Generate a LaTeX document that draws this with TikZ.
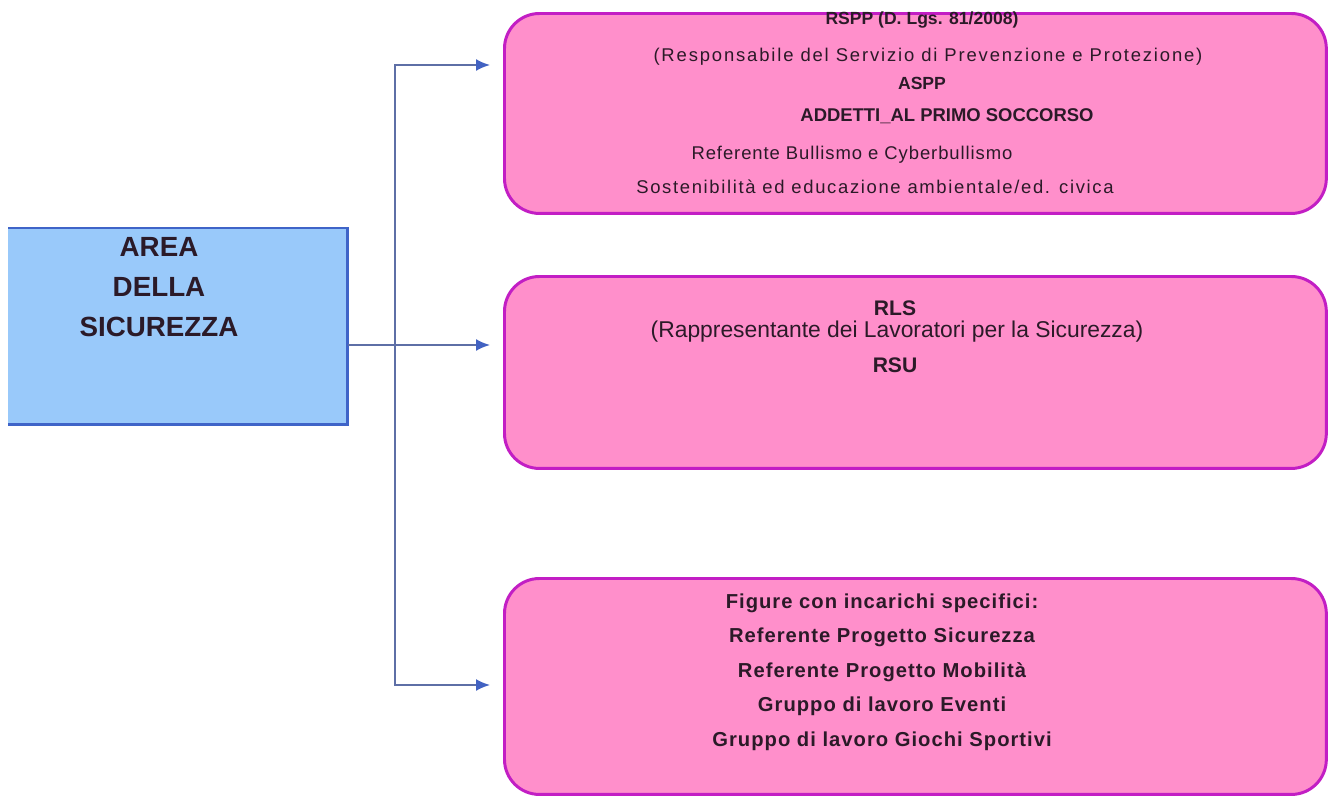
\documentclass[tikz,border=0pt]{standalone}
\usepackage{fontspec}
\setmainfont{Liberation Sans}
\usetikzlibrary{arrows.meta}

\definecolor{areafill}{HTML}{99C9FA}
\definecolor{areaedge}{HTML}{3F64C8}
\definecolor{rolefill}{HTML}{FF8FCB}
\definecolor{roleedge}{HTML}{C21EC4}
\definecolor{linkgray}{HTML}{5E6FA6}
\definecolor{tipblue}{HTML}{4262C2}
\definecolor{ink}{HTML}{2B1A28}

\tikzset{
  areabox/.style={fill=areafill, anchor=north west, minimum width=6.78cm, minimum height=3.92cm, inner sep=0pt},
  areaedge/.style={draw=areaedge, line width=1.6pt},
  areatext/.style={text=ink, align=center, font=\fontsize{15.8}{22.7}\selectfont\bfseries},
  rolebox/.style={draw=roleedge, fill=rolefill, line width=1.7pt, rounded corners=0.7cm, anchor=north west, minimum width=16.44cm, inner sep=0pt},
  boldline/.style={text=ink, inner sep=0pt, font=\fontsize{10.5}{12}\selectfont\bfseries},
  plainline/.style={text=ink, inner sep=0pt, font=\fontsize{10.5}{12}\selectfont\addfontfeature{LetterSpace=5}},
  link/.style={draw=linkgray, line width=1.1pt, -{Latex[length=0.28cm, width=0.24cm, color=tipblue]}}
}

\begin{document}
\begin{tikzpicture}[x=0.02cm, y=-0.02cm]
\useasboundingbox (0,0) rectangle (1332,801);

% left box
\node[areabox] (area) at (8,228) {};
\draw[areaedge] (area.north west) -- (area.north east) -- (area.south east) -- (area.south west);
\node[areatext] (areatitle) at (159,287) {AREA\\DELLA\\SICUREZZA};

% right boxes
\node[rolebox, minimum height=4cm] (rspp) at (503,12) {};
\node[rolebox, minimum height=3.84cm] (rls) at (503,275) {};
\node[rolebox, minimum height=4.32cm] (fig) at (503,577) {};

% box 1
\node[boldline, font=\fontsize{10}{12}\selectfont\bfseries] (rsppa) at (922,20) {RSPP (D. Lgs. 81/2008)};
\node[plainline, font=\fontsize{10.5}{12}\selectfont\addfontfeature{LetterSpace=10}] (rsppb) at (928,57) {(Responsabile del Servizio di Prevenzione e Protezione)};
\node[boldline, font=\fontsize{10}{12}\selectfont\bfseries] (aspp) at (922,83) {ASPP};
\node[boldline] (addetti) at (947,116) {ADDETTI\_AL PRIMO SOCCORSO};
\node[plainline] (bull) at (852,155) {Referente Bullismo e Cyberbullismo};
\node[plainline, font=\fontsize{10.5}{12}\selectfont\addfontfeature{LetterSpace=9}] (sost) at (875,187) {Sostenibilità ed educazione ambientale/ed. civica};

% box 2
\node[boldline, font=\fontsize{12}{14}\selectfont\bfseries] (rlsa) at (895,308) {RLS};
\node[text=ink, inner sep=0pt, font=\fontsize{13}{14}\selectfont] (rlsb) at (897,332) {(Rappresentante dei Lavoratori per la Sicurezza)};
\node[boldline, font=\fontsize{12}{14}\selectfont\bfseries] (rsu) at (895,365) {RSU};

% box 3
\node[text=ink, align=center, inner sep=0pt, font=\fontsize{11.5}{19.6}\selectfont\bfseries\addfontfeature{LetterSpace=5}] (figtext) at (882,672)
  {Figure con incarichi specifici:\\Referente Progetto Sicurezza\\Referente Progetto Mobilità\\Gruppo di lavoro Eventi\\Gruppo di lavoro Giochi Sportivi};

% connectors
\coordinate (fork) at (395,345);
\coordinate (tip1) at (490,65);
\coordinate (tip2) at (490,345);
\coordinate (tip3) at (490,685);
\draw[link] (area.east |- fork) -- (tip2);
\draw[link] (fork) |- (tip1);
\draw[link] (fork) |- (tip3);
\end{tikzpicture}
\end{document}
